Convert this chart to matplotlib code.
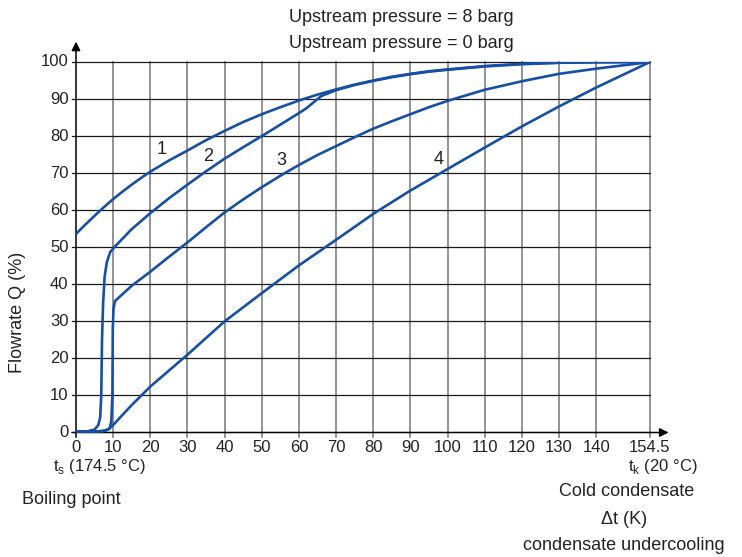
import matplotlib.pyplot as plt

# curve data (x = undercooling in K, y = flowrate in %)
x1 = [0, 2.5, 5, 7.5, 10, 12.5, 15, 17.5, 20, 25, 30, 35, 40, 45, 50, 55, 60, 65, 70, 75, 80, 85, 90,
      95, 100, 110, 120, 130, 140, 154.5]
y1 = [53.6, 56.1, 58.5, 60.8, 63.0, 65.0, 66.9, 68.7, 70.4, 73.4, 76.1, 78.9, 81.4, 83.8, 85.9, 87.8, 89.6,
      91.2, 92.6, 93.9, 95.0, 96.0, 96.8, 97.5, 98.0, 98.9, 99.5, 99.8, 99.95, 100]

x2 = [0, 3, 5, 6, 6.5, 6.8, 7.0, 7.3, 7.7, 8.3, 9.2, 10.5, 15, 20, 25, 30, 35, 40, 45, 50, 55, 60, 62, 66, 70,
      75, 80, 85, 90, 95, 100, 110, 120, 130, 140, 154.5]
y2 = [0.3, 0.3, 0.8, 2, 4, 10, 25, 35, 42, 46, 48.7, 50.2, 54.9, 59.2, 63.2, 66.9, 70.5, 73.9, 77.0, 80.0,
      83.1, 86.2, 87.5, 90.8, 92.4, 93.8, 94.9, 95.9, 96.7, 97.4, 97.9, 98.8, 99.4, 99.8, 99.95, 100]

x3 = [0, 5, 7, 8, 9, 9.5, 9.8, 9.9, 10.1, 10.5, 15, 20, 25, 30, 35, 40, 45, 50, 55, 60, 65, 70, 75, 80,
      85, 90, 95, 100, 110, 120, 130, 140, 154.5]
y3 = [0.3, 0.3, 0.3, 0.5, 1.0, 3, 10, 28, 33.5, 35.5, 39.6, 43.4, 47.4, 51.3, 55.4, 59.4, 62.9, 66.2, 69.3,
      72.2, 74.9, 77.3, 79.7, 82.0, 84.0, 85.9, 87.8, 89.5, 92.5, 94.8, 96.8, 98.2, 100]

x4 = [0, 4, 6, 8, 9, 10, 12, 15, 20, 30, 40, 50, 60, 70, 80, 90, 100, 110, 120, 130, 140, 154.5]
y4 = [0.3, 0.3, 0.3, 0.6, 1.1, 2.0, 4.2, 7.4, 12.4, 21.0, 30.0, 37.6, 45.1, 52.0, 59.0, 65.3, 71.1, 76.9,
      82.6, 88.0, 93.1, 100]

curve_labels = ["1", "2", "3", "4"]
label_pos = [(23.1, 76.3), (35.5, 74.4), (55.4, 73.4), (97.5, 73.6)]

xticks = [0, 10, 20, 30, 40, 50, 60, 70, 80, 90, 100, 110, 120, 130, 140, 154.5]
xticklabels = ["0", "10", "20", "30", "40", "50", "60", "70", "80", "90", "100", "110", "120", "130", "140", "154.5"]
yticks = [0, 10, 20, 30, 40, 50, 60, 70, 80, 90, 100]

blue = "#164fa3"
plt.rcParams['font.family'] = ['Liberation Sans', 'DejaVu Sans']

W, H = 742, 557
fig = plt.figure(figsize=(W / 100, H / 100), dpi=100)
ax = fig.add_axes([76 / W, 1 - 432.5 / H, (650 - 76) / W, (432.5 - 62) / H])
ax.set_xlim(0, 154.5)
ax.set_ylim(0, 100)

for s in ax.spines.values():
    s.set_visible(False)

# grid
for xv in xticks[1:]:
    ax.plot([xv, xv], [-1.2, 100], color="#808080", lw=1.2, clip_on=False, zorder=1)
for yv in yticks[1:]:
    ax.plot([-1.1, 154.5], [yv, yv], color="#1a1a1a", lw=0.9, clip_on=False, zorder=1)

# axes with arrows
ax.annotate("", xy=(0, 105.5), xytext=(0, 0), xycoords="data",
            arrowprops=dict(arrowstyle="-|>", color="black", lw=1.1, mutation_scale=13,
                            shrinkA=0, shrinkB=0), annotation_clip=False)
ax.annotate("", xy=(159.5, 0), xytext=(-1.1, 0), xycoords="data",
            arrowprops=dict(arrowstyle="-|>", color="black", lw=1.1, mutation_scale=13,
                            shrinkA=0, shrinkB=0), annotation_clip=False)
ax.plot([0, 0], [-1.2, 0], color="black", lw=1.1, clip_on=False)

for xs, ys in [(x1, y1), (x2, y2), (x3, y3), (x4, y4)]:
    ax.plot(xs, ys, color=blue, lw=1.9, zorder=3, solid_capstyle="round", solid_joinstyle="round")

for lab, (lx, ly) in zip(curve_labels, label_pos):
    ax.text(lx, ly, lab, fontsize=13, color="#222222", ha="center", va="center")

ax.set_xticks([])
ax.set_yticks([])
for xv, lab in zip(xticks, xticklabels):
    ax.text(xv, -2.0, lab, fontsize=12, color="#222222", ha="center", va="top")
for yv in yticks:
    ax.text(-2.0, yv, str(yv), fontsize=12, color="#222222", ha="right", va="center")

def ftext(px, py, s, **kw):
    fig.text(px / W, 1 - py / H, s, color="#222222", **kw)

ftext(401, 17, "Upstream pressure = 8 barg", fontsize=13, ha="center", va="center")
ftext(401, 43, "Upstream pressure = 0 barg", fontsize=13, ha="center", va="center")
ftext(18, 312, "Flowrate Q (%)", fontsize=13, ha="center", va="center", rotation=90)
ftext(53, 467, r"t$_\mathregular{s}$ (174.5 °C)", fontsize=12, ha="left", va="center")
ftext(698, 467, r"t$_\mathregular{k}$ (20 °C)", fontsize=12, ha="right", va="center")
ftext(22, 499, "Boiling point", fontsize=13, ha="left", va="center")
ftext(627, 492, "Cold condensate", fontsize=13, ha="center", va="center")
ftext(624, 520, "Δt (K)", fontsize=13, ha="center", va="center")
ftext(624, 546, "condensate undercooling", fontsize=13, ha="center", va="center")

fig.savefig("out.png", dpi=100)
